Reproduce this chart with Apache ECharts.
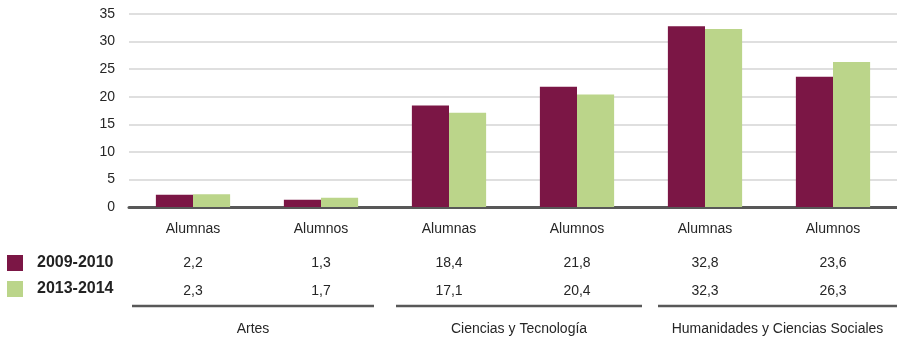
<!DOCTYPE html>
<html>
<head>
<meta charset="utf-8">
<script src="https://cdn.jsdelivr.net/npm/echarts@6/dist/echarts.min.js"></script>
<style>
html,body{margin:0;padding:0;background:#fff;}
#c{width:897px;height:340px;}
</style>
</head>
<body>
<div id="c"></div>
<script>
// ---- data ----
var categories = ['Alumnas', 'Alumnos', 'Alumnas', 'Alumnos', 'Alumnas', 'Alumnos'];
var seriesNames = ['2009-2010', '2013-2014'];
var values2009 = [2.2, 1.3, 18.4, 21.8, 32.8, 23.6];
var values2013 = [2.3, 1.7, 17.1, 20.4, 32.3, 26.3];
var groups = ['Artes', 'Ciencias y Tecnología', 'Humanidades y Ciencias Sociales'];
var groupSpans = [[0, 1], [2, 3], [4, 5]];
var yTicks = [0, 5, 10, 15, 20, 25, 30, 35];

// ---- style ----
var FONT = '"Liberation Sans", Arial, sans-serif';
var TXT = '#262626';
var C1 = '#7B1645';
var C2 = '#BBD58A';
var groupInsets = [[3, 11], [11, -1], [17, 0]];

function fmt(v) { return v.toFixed(1).replace('.', ','); }

var chart = echarts.init(document.getElementById('c'), null, {renderer: 'canvas'});

var grid = {left: 129, right: 0, top: 14, bottom: 133};

var option = {
  animation: false,
  backgroundColor: '#fff',
  textStyle: {fontFamily: FONT},
  grid: grid,
  legend: {
    orient: 'vertical',
    left: 7, top: 255, padding: 0,
    itemWidth: 16, itemHeight: 16, itemGap: 10,
    icon: 'rect',
    data: seriesNames,
    textStyle: {fontFamily: FONT, fontSize: 16, fontWeight: 'bold', color: '#222', padding: [0, 0, 0, 9]},
    selectedMode: false
  },
  xAxis: [
    {
      type: 'category', data: categories, position: 'bottom',
      axisLine: {show: true, lineStyle: {color: '#585858', width: 3}},
      axisTick: {show: false},
      axisLabel: {color: TXT, fontSize: 14, fontFamily: FONT, margin: 15, interval: 0}
    },
    {
      type: 'category', data: categories, position: 'bottom', gridIndex: 0,
      axisLine: {show: false}, axisTick: {show: false}, splitLine: {show: false},
      axisLabel: {color: TXT, fontSize: 14, fontFamily: FONT, margin: 49, interval: 0,
        formatter: function (v, i) { return fmt(values2009[i]); }}
    },
    {
      type: 'category', data: categories, position: 'bottom', gridIndex: 0,
      axisLine: {show: false}, axisTick: {show: false}, splitLine: {show: false},
      axisLabel: {color: TXT, fontSize: 14, fontFamily: FONT, margin: 77, interval: 0,
        formatter: function (v, i) { return fmt(values2013[i]); }}
    }
  ],
  yAxis: {
    type: 'value', min: yTicks[0], max: yTicks[yTicks.length - 1], interval: 5,
    axisLine: {show: false}, axisTick: {show: false},
    axisLabel: {color: TXT, fontSize: 14, fontFamily: FONT, margin: 14},
    splitLine: {lineStyle: {color: '#D4D4D4', width: 1.5}}
  },
  series: [
    {name: seriesNames[0], type: 'bar', data: values2009, barGap: '0%', barCategoryGap: '42%',
      itemStyle: {color: C1}, z: 1},
    {name: seriesNames[1], type: 'bar', data: values2013, barGap: '0%', barCategoryGap: '42%',
      itemStyle: {color: C2}, z: 1}
  ]
};
chart.setOption(option);

// group brackets computed from the category axis
var half = (chart.convertToPixel({xAxisIndex: 0}, 1) - chart.convertToPixel({xAxisIndex: 0}, 0)) / 2;
var gfx = [];
groups.forEach(function (g, k) {
  var a = chart.convertToPixel({xAxisIndex: 0}, groupSpans[k][0]) - half + groupInsets[k][0];
  var b = chart.convertToPixel({xAxisIndex: 0}, groupSpans[k][1]) + half - groupInsets[k][1];
  b = Math.min(b, 897);
  gfx.push({type: 'line', shape: {x1: a, y1: 306, x2: b, y2: 306},
    style: {stroke: '#585858', lineWidth: 2.5}});
  gfx.push({type: 'text', x: (a + b) / 2, y: 329,
    style: {text: g, fill: TXT, font: '14px ' + FONT, textAlign: 'center', textVerticalAlign: 'middle'}});
});
chart.setOption({graphic: gfx});
</script>
</body>
</html>
